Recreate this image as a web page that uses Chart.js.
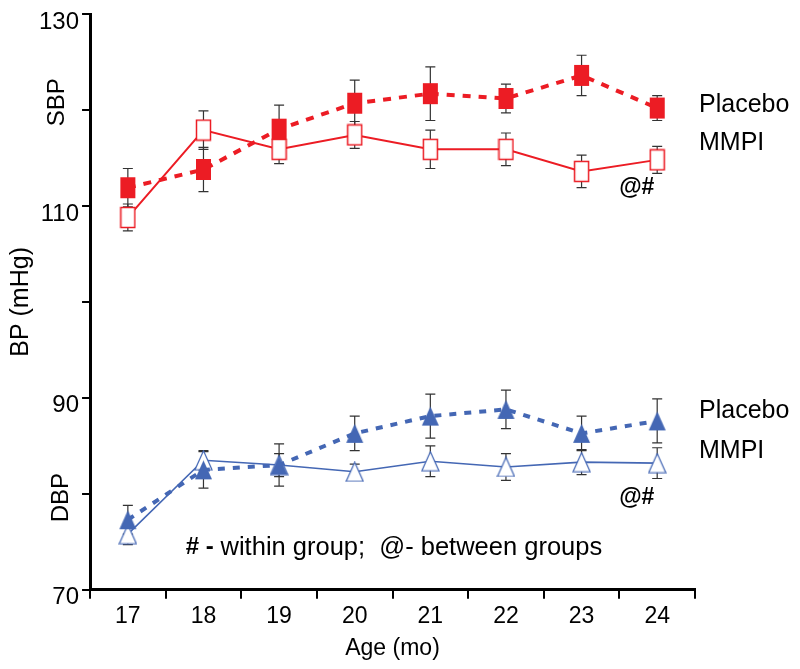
<!DOCTYPE html>
<html>
<head>
<meta charset="utf-8">
<script src="https://cdn.jsdelivr.net/npm/chart.js@4"></script>
<style>
  body { margin: 0; background: #fff; }
  #wrap { width: 800px; height: 669px; }
</style>
</head>
<body>
<div id="wrap"><canvas id="bpChart" width="800" height="669"></canvas></div>
<script>
// ages on the x axis
const ages = ['17', '18', '19', '20', '21', '22', '23', '24'];

// systolic
const sbpPlacebo    = [111.9, 113.8, 118.0, 120.7, 121.7, 121.2, 123.6, 120.2];
const sbpPlaceboErr = [2.0, 2.3, 2.5, 2.4, 2.8, 1.5, 2.1, 1.3];
const sbpMmpi       = [108.8, 117.9, 115.9, 117.4, 115.9, 115.9, 113.6, 114.8];
const sbpMmpiErr    = [1.4, 2.0, 1.5, 1.4, 2.0, 1.7, 1.7, 1.4];

// diastolic
const dbpPlacebo    = [77.3, 82.5, 83.0, 86.3, 88.1, 88.8, 86.3, 87.6];
const dbpPlaceboErr = [1.5, 1.9, 2.2, 1.8, 2.3, 2.0, 1.8, 2.3];
const dbpMmpi       = [75.8, 83.5, 83.0, 82.3, 83.4, 82.8, 83.3, 83.2];
const dbpMmpiErr    = [1.1, 1.0, 1.2, 0.8, 1.6, 1.4, 1.3, 1.6];

const yLabels = [70, 90, 110, 130];

const RED = '#ec1c24';
const BLUE = '#4467b4';
const FONT = '"Liberation Sans", Arial, sans-serif';
const NARROW = '"Liberation Sans Narrow", "Liberation Sans", Arial';

// marker images
function rectMarker(fill, stroke) {
  const c = document.createElement('canvas');
  c.width = 17; c.height = 23;
  const g = c.getContext('2d');
  g.fillStyle = fill;
  g.fillRect(1, 1, 15, 21);
  if (stroke) {
    g.strokeStyle = stroke;
    g.lineWidth = 1.5;
    g.strokeRect(1.5, 1.5, 14, 20);
  }
  return c;
}
function triMarker(fill, stroke) {
  const c = document.createElement('canvas');
  c.width = 19; c.height = 21;
  const g = c.getContext('2d');
  g.beginPath();
  g.moveTo(9.5, 1);
  g.lineTo(18, 20);
  g.lineTo(1, 20);
  g.closePath();
  g.fillStyle = fill;
  g.fill();
  if (stroke) {
    g.strokeStyle = stroke;
    g.lineWidth = 1.2;
    g.stroke();
  }
  return c;
}

const errorBars = {
  id: 'errorBars',
  beforeDatasetsDraw(chart) {
    const ctx = chart.ctx;
    const y = chart.scales.y;
    ctx.save();
    ctx.strokeStyle = '#333';
    ctx.lineWidth = 1.2;
    chart.data.datasets.forEach((ds, i) => {
      const meta = chart.getDatasetMeta(i);
      meta.data.forEach((pt, j) => {
        const v = ds.data[j], e = ds.err[j];
        const top = y.getPixelForValue(v + e);
        const bot = y.getPixelForValue(v - e);
        ctx.beginPath();
        ctx.moveTo(pt.x, top); ctx.lineTo(pt.x, bot);
        ctx.moveTo(pt.x - 5, top); ctx.lineTo(pt.x + 5, top);
        ctx.moveTo(pt.x - 5, bot); ctx.lineTo(pt.x + 5, bot);
        ctx.stroke();
      });
    });
    ctx.restore();
  }
};

const notes = {
  id: 'notes',
  afterDraw(chart) {
    const ctx = chart.ctx;
    const y = chart.scales.y;
    const x = chart.scales.x;
    const area = chart.chartArea;
    ctx.save();
    ctx.fillStyle = '#000';
    ctx.textBaseline = 'middle';

    // group labels on the left
    ctx.font = '24px ' + FONT;
    ctx.textAlign = 'center';
    [['SBP', 120.8, 33], ['DBP', 79.6, 29]].forEach(([t, v, dx]) => {
      ctx.save();
      ctx.translate(area.left - dx, y.getPixelForValue(v));
      ctx.rotate(-Math.PI / 2);
      ctx.fillText(t, 0, 0);
      ctx.restore();
    });

    // series names on the right
    ctx.textAlign = 'left';
    ctx.font = '25px ' + FONT;
    const lx = area.right + 4;
    ctx.fillText('Placebo', lx, y.getPixelForValue(120.5));
    ctx.fillText('MMPI', lx, y.getPixelForValue(116.5));
    ctx.fillText('Placebo', lx, y.getPixelForValue(88.6));
    ctx.fillText('MMPI', lx, y.getPixelForValue(84.5));

    // significance marks
    ctx.font = 'bold 23px ' + FONT;
    const mx = x.getPixelForValue(7) - 38;
    ctx.fillText('@#', mx, y.getPixelForValue(111.9));
    ctx.fillText('@#', mx, y.getPixelForValue(79.6));

    // footnote
    const fy = y.getPixelForValue(74.4);
    let fx = x.getPixelForValue(0) + 58;
    ctx.font = 'bold 24px ' + FONT;
    ctx.fillText('# -', fx, fy);
    fx += ctx.measureText('# - ').width;
    ctx.font = '25.5px ' + FONT;
    ctx.fillText('within group;  @- between groups', fx, fy);
    ctx.restore();
  }
};

const ctx = document.getElementById('bpChart').getContext('2d');
new Chart(ctx, {
  type: 'line',
  data: {
    labels: ages,
    datasets: [
      {
        label: 'SBP Placebo', data: sbpPlacebo, err: sbpPlaceboErr,
        borderColor: RED, borderWidth: 4, borderDash: [8, 8],
        pointStyle: rectMarker(RED), pointRadius: 10
      },
      {
        label: 'SBP MMPI', data: sbpMmpi, err: sbpMmpiErr,
        borderColor: RED, borderWidth: 2,
        pointStyle: rectMarker('#fff', RED), pointRadius: 10
      },
      {
        label: 'DBP Placebo', data: dbpPlacebo, err: dbpPlaceboErr,
        borderColor: BLUE, borderWidth: 4, borderDash: [7, 8],
        pointStyle: triMarker(BLUE), pointRadius: 10
      },
      {
        label: 'DBP MMPI', data: dbpMmpi, err: dbpMmpiErr,
        borderColor: BLUE, borderWidth: 1.6,
        pointStyle: triMarker('#fff', BLUE), pointRadius: 10
      }
    ]
  },
  options: {
    responsive: false,
    animation: false,
    layout: { padding: { top: 0, right: 105, left: 0, bottom: 3 } },
    plugins: { legend: { display: false }, tooltip: { enabled: false } },
    scales: {
      x: {
        offset: true,
        border: { color: '#000', width: 3 },
        grid: { offset: true, drawOnChartArea: false, drawTicks: true, tickLength: 9, color: '#000', lineWidth: 2 },
        ticks: { color: '#000', font: { family: NARROW, size: 23 }, padding: 4 },
        title: { display: true, text: 'Age (mo)', color: '#000', font: { family: NARROW, size: 23 }, padding: { top: 0 } }
      },
      y: {
        min: 70, max: 130,
        border: { color: '#000', width: 3 },
        grid: { drawOnChartArea: false, drawTicks: true, tickLength: 8, color: '#000', lineWidth: 2 },
        ticks: {
          stepSize: 10, color: '#000', padding: 3, labelOffset: 8,
          font: { family: FONT, size: 24, lineHeight: 0.66 },
          callback: v => yLabels.includes(v) ? String(v) : ''
        },
        title: { display: true, text: 'BP (mHg)', color: '#000', font: { family: FONT, size: 25 }, padding: { top: 6, bottom: 0 } }
      }
    }
  },
  plugins: [errorBars, notes]
});
</script>
</body>
</html>
